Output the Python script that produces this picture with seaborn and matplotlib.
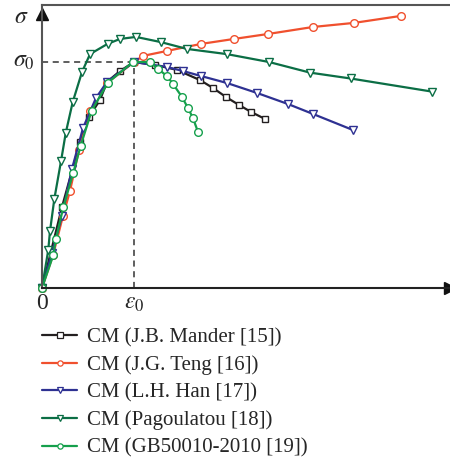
import numpy as np
import pandas as pd
import matplotlib
matplotlib.use("Agg")
import matplotlib.pyplot as plt
import seaborn as sns

# ---- data (normalized: strain / eps0, stress / sigma0) ----
mander_x = [0, 0.217, 0.413, 0.511, 0.630, 0.707, 0.848, 1.0, 1.228, 1.467, 1.717, 1.859, 2.0, 2.141, 2.272, 2.424]
mander_y = [0, 0.358, 0.646, 0.757, 0.832, 0.912, 0.960, 1.0, 0.987, 0.965, 0.920, 0.885, 0.845, 0.810, 0.779, 0.748]

teng_x = [0, 0.120, 0.228, 0.304, 0.402, 0.522, 0.707, 1.0, 1.098, 1.359, 1.728, 2.087, 2.457, 2.946, 3.391, 3.902]
teng_y = [0, 0.146, 0.319, 0.429, 0.611, 0.783, 0.907, 1.0, 1.027, 1.049, 1.080, 1.102, 1.124, 1.155, 1.173, 1.204]

han_x = [0, 0.109, 0.217, 0.326, 0.446, 0.587, 0.707, 1.0, 1.359, 1.533, 1.728, 2.011, 2.337, 2.674, 2.946, 3.380]
han_y = [0, 0.155, 0.319, 0.527, 0.708, 0.841, 0.912, 1.0, 0.978, 0.960, 0.938, 0.907, 0.863, 0.814, 0.770, 0.699]

pago_x = [0, 0.068, 0.087, 0.134, 0.207, 0.258, 0.334, 0.435, 0.522, 0.712, 0.848, 1.022, 1.293, 1.573, 2.008, 2.467, 2.913, 3.355, 4.239]
pago_y = [0, 0.168, 0.252, 0.394, 0.562, 0.686, 0.823, 0.956, 1.035, 1.080, 1.102, 1.111, 1.088, 1.058, 1.035, 1.0, 0.953, 0.927, 0.869]

gb_x = [0, 0.123, 0.152, 0.232, 0.340, 0.421, 0.540, 0.717, 0.989, 1.174, 1.261, 1.359, 1.424, 1.522, 1.587, 1.641, 1.696]
gb_y = [0, 0.146, 0.218, 0.358, 0.510, 0.630, 0.785, 0.909, 1.0, 1.0, 0.969, 0.938, 0.903, 0.845, 0.796, 0.752, 0.690]

labels = ["CM (J.B. Mander [15])", "CM (J.G. Teng [16])", "CM (L.H. Han [17])",
          "CM (Pagoulatou [18])", "CM (GB50010-2010 [19])"]

series = [
    (mander_x, mander_y, "#231f20", "s", 4.5),
    (teng_x, teng_y, "#f0502e", "o", 5.5),
    (han_x, han_y, "#2e3192", "v", 6),
    (pago_x, pago_y, "#0b6e45", "v", 6),
    (gb_x, gb_y, "#15a04c", "o", 5.5),
]

sns.set_style("white")
plt.rcParams["font.family"] = ["Liberation Serif", "DejaVu Serif"]
plt.rcParams["mathtext.fontset"] = "stix"

fig = plt.figure(figsize=(4.5, 4.66), dpi=100)
W, H = 450, 466
ax = fig.add_axes([42 / W, (H - 288) / H, (450 - 42) / W, (288 - 5) / H])

xmax = (450 - 42) / 92.0
ymax = (288 - 5) / 226.0
ax.set_xlim(0, xmax)
ax.set_ylim(0, ymax)

handles = []
for (xs, ys, col, mk, ms), lab in zip(series, labels):
    df = pd.DataFrame({"x": xs, "y": ys})
    sns.lineplot(data=df, x="x", y="y", ax=ax, color=col, marker=mk, markersize=ms,
                 markerfacecolor="white", markeredgecolor=col, markeredgewidth=1.0,
                 linewidth=1.6, sort=False, estimator=None, clip_on=False, label=lab,
                 legend=False)
    handles.append(plt.Line2D([], [], color=col, marker=mk, markersize=3.8,
                              markerfacecolor="white", markeredgecolor=col,
                              markeredgewidth=0.9, linewidth=1.6))

# dashed reference lines at (eps0, sigma0)
ax.plot([0, 1], [1, 1], ls=(0, (4, 3)), color="#333333", lw=1.1, zorder=1)
ax.plot([1, 1], [0, 1], ls=(0, (4, 3)), color="#333333", lw=1.1, zorder=1)

# spines
ax.spines["right"].set_visible(False)
ax.spines["top"].set_color("#555555")
ax.spines["top"].set_linewidth(1.5)
ax.spines["left"].set_color("#555555")
ax.spines["left"].set_linewidth(1.5)
ax.spines["bottom"].set_color("#222222")
ax.spines["bottom"].set_linewidth(1.5)
ax.set_xticks([])
ax.set_yticks([])
ax.set_xlabel("")
ax.set_ylabel("")

# arrows
ax.plot(1, 0, marker=">", color="#111111", markersize=9, transform=ax.transAxes, clip_on=False)
ax.plot(0, (288 - 14) / 283.0, marker="^", color="#111111", markersize=9,
        transform=ax.transAxes, clip_on=False)

# axis annotations
ax.text(-28 / 92, (288 - 17) / 226.0, r"$\sigma$", fontsize=17, ha="left", va="center")
ax.text(-29 / 92, 1.0, r"$\sigma_0$", fontsize=17, ha="left", va="center")
ax.text(0, -0.022, "0", fontsize=17, ha="center", va="top")
ax.text(1, -0.022, r"$\varepsilon_0$", fontsize=17, ha="center", va="top")
ax.text(xmax + 0.02, -0.05, r"$\varepsilon$", fontsize=15, ha="left", va="top", clip_on=False)

fig.legend(handles, labels, loc="upper left", bbox_to_anchor=(42 / W, (H - 328) / H),
           frameon=False, fontsize=15, handlelength=1.7, handletextpad=0.45,
           labelspacing=0.38, borderpad=0, borderaxespad=0)

fig.savefig("out.png", dpi=100)
